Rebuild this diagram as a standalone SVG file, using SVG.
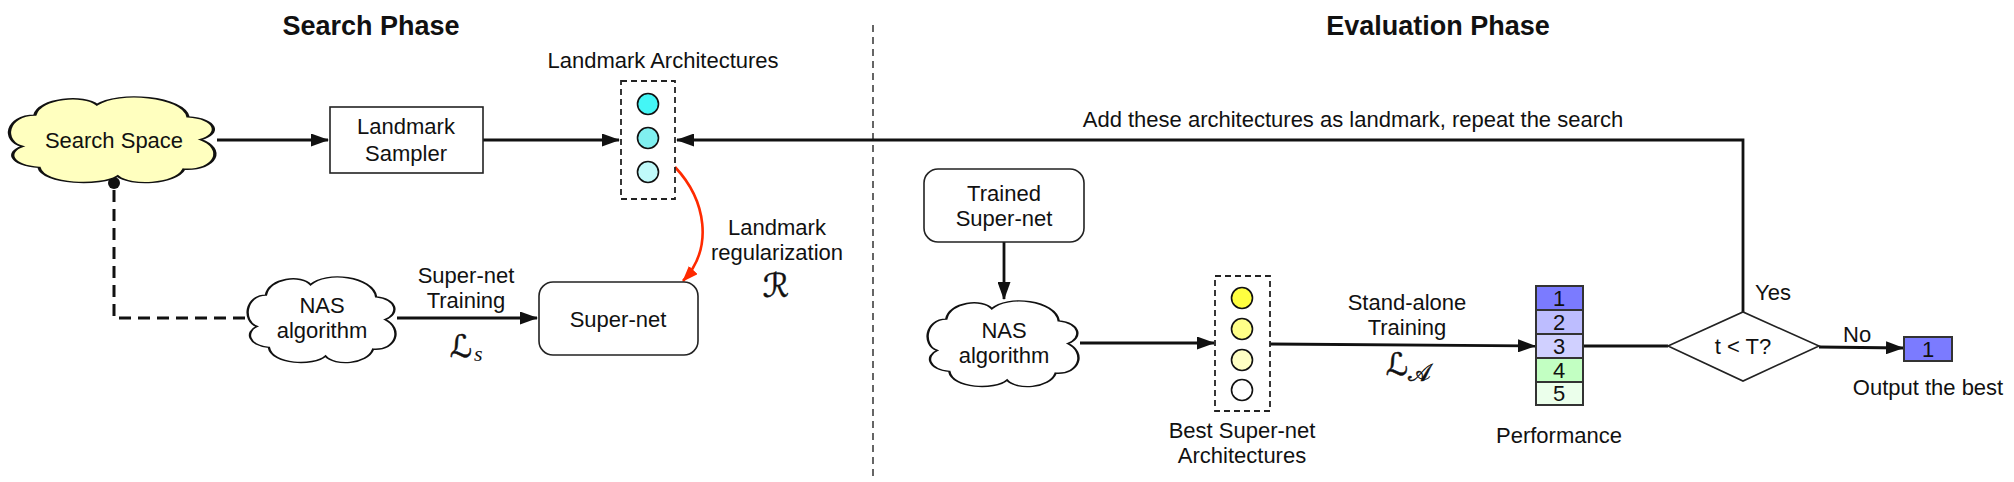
<svg xmlns="http://www.w3.org/2000/svg" width="2014" height="482" viewBox="0 0 2014 482">
<style>
text{font-family:"Liberation Sans",Arial,sans-serif;font-size:22px;fill:#111;text-anchor:middle}
.title{font-size:27px;font-weight:bold}
.math{font-family:"DejaVu Sans","DejaVu Serif","Liberation Serif",serif;stroke:#111;stroke-width:0.5}
.it{font-family:"Liberation Serif",serif;font-style:italic;text-anchor:start}
.cloud{stroke:#111;stroke-width:1.6;vector-effect:non-scaling-stroke}
.box{fill:#fff;stroke:#222;stroke-width:1.6}
.dbox{fill:none;stroke:#222;stroke-width:1.8;stroke-dasharray:6 4}
.dot{stroke:#111;stroke-width:1.6}
.ln{fill:none;stroke:#111;stroke-width:2.8}
.cell{stroke:#333;stroke-width:2}
</style>
<defs>
<marker id="ah" markerUnits="userSpaceOnUse" markerWidth="18" markerHeight="13" refX="17" refY="6.5" orient="auto">
<path d="M0,0 L18,6.5 L0,13 z" fill="#111"/>
</marker>
<marker id="ahr" markerUnits="userSpaceOnUse" markerWidth="16" markerHeight="12" refX="15" refY="6" orient="auto">
<path d="M0,0 L16,6 L0,12 z" fill="#ff2a00"/>
</marker>
<marker id="dotm" markerUnits="userSpaceOnUse" markerWidth="14" markerHeight="14" refX="7" refY="7" orient="auto">
<circle cx="7" cy="7" r="6" fill="#111"/>
</marker>
<path id="cloudp" d="M6,58 C-4,52 -2,22 12,22 C14,2 36,-2 42,10 C52,-6 84,0 86,24 C100,26 102,44 92,50 C104,60 100,86 84,84 C80,102 58,104 52,92 C44,104 16,102 14,82 C0,80 -2,64 6,58 Z"/>
</defs>

<text class="title" x="371" y="35">Search Phase</text>
<text class="title" x="1438" y="35">Evaluation Phase</text>
<line x1="873" y1="25" x2="873" y2="476" stroke="#333" stroke-width="1.5" stroke-dasharray="7 5"/>

<g id="connectors">
<line class="ln" x1="217" y1="140" x2="328" y2="140" marker-end="url(#ah)"/>
<line class="ln" x1="483" y1="140" x2="619" y2="140" marker-end="url(#ah)"/>
<path class="ln" d="M1743,312 L1743,140 L677,140" marker-end="url(#ah)"/>
<path d="M675,167 C706,200 714,248 683,281" fill="none" stroke="#ff2a00" stroke-width="2.6" marker-end="url(#ahr)"/>
<path d="M245,318 L114,318 L114,183" fill="none" stroke="#111" stroke-width="3" stroke-dasharray="12 7" marker-end="url(#dotm)"/>
<line class="ln" x1="397" y1="318" x2="537" y2="318" marker-end="url(#ah)"/>
<line class="ln" x1="1004" y1="242" x2="1004" y2="299" marker-end="url(#ah)"/>
<line class="ln" x1="1080" y1="343" x2="1214" y2="343" marker-end="url(#ah)"/>
<line class="ln" x1="1270" y1="344" x2="1535" y2="346" marker-end="url(#ah)"/>
<line class="ln" x1="1583" y1="346" x2="1668" y2="346"/>
<line class="ln" x1="1819" y1="347" x2="1903" y2="348" marker-end="url(#ah)"/>
<text x="1353" y="127">Add these architectures as landmark, repeat the search</text>
<text x="466" y="283">Super-net</text>
<text x="466" y="308">Training</text>
<text class="math" x="461" y="357" style="font-size:31px">ℒ</text>
<text class="it" x="474" y="361">s</text>
<text x="777" y="235">Landmark</text>
<text x="777" y="260">regularization</text>
<text class="math" x="776" y="297" style="font-size:33px">ℛ</text>
<text class="math" x="1397" y="375" style="font-size:31px">ℒ</text>
<text class="math" x="1419" y="381" style="font-size:24px">𝒜</text>
<text x="1407" y="310">Stand-alone</text>
<text x="1407" y="335">Training</text>
<text x="1755" y="300" style="text-anchor:start">Yes</text>
<text x="1843" y="342" style="text-anchor:start">No</text>
</g>

<g id="search-space">
<use href="#cloudp" class="cloud" fill="#ffffbf" transform="translate(10,96) scale(2.07,0.87)"/>
<text x="114" y="148">Search Space</text>
</g>

<g id="landmark-sampler">
<rect class="box" x="330" y="107" width="153" height="66"/>
<text x="406" y="134">Landmark</text>
<text x="406" y="161">Sampler</text>
</g>

<g id="landmark-architectures">
<text x="663" y="68">Landmark Architectures</text>
<rect class="dbox" x="621" y="81" width="54" height="118"/>
<circle class="dot" cx="648" cy="104" r="10.5" fill="#44f6f6"/>
<circle class="dot" cx="648" cy="138" r="10.5" fill="#80f0f0"/>
<circle class="dot" cx="648" cy="172" r="10.5" fill="#c0fafa"/>
</g>

<g id="nas-search">
<use href="#cloudp" class="cloud" fill="#fff" transform="translate(248,276) scale(1.49,0.87)"/>
<text x="322" y="313">NAS</text>
<text x="322" y="338">algorithm</text>
</g>

<g id="super-net">
<rect class="box" x="539" y="282" width="159" height="73" rx="14"/>
<text x="618" y="327">Super-net</text>
</g>

<g id="trained-super-net">
<rect class="box" x="924" y="169" width="160" height="73" rx="14"/>
<text x="1004" y="201">Trained</text>
<text x="1004" y="226">Super-net</text>
</g>

<g id="nas-eval">
<use href="#cloudp" class="cloud" fill="#fff" transform="translate(928,300) scale(1.52,0.87)"/>
<text x="1004" y="338">NAS</text>
<text x="1004" y="363">algorithm</text>
</g>

<g id="best-architectures">
<rect class="dbox" x="1215" y="276" width="55" height="135"/>
<circle class="dot" cx="1242" cy="298" r="10.5" fill="#ffff40"/>
<circle class="dot" cx="1242" cy="329" r="10.5" fill="#ffff88"/>
<circle class="dot" cx="1242" cy="360" r="10.5" fill="#ffffc4"/>
<circle class="dot" cx="1242" cy="390" r="10.5" fill="#fff"/>
<text x="1242" y="438">Best Super-net</text>
<text x="1242" y="463">Architectures</text>
</g>

<g id="performance">
<rect class="cell" x="1536" y="286" width="47" height="24" fill="#7b7bff"/>
<rect class="cell" x="1536" y="310" width="47" height="24" fill="#bdbdff"/>
<rect class="cell" x="1536" y="334" width="47" height="24" fill="#d0d0ff"/>
<rect class="cell" x="1536" y="358" width="47" height="24" fill="#c2ffc2"/>
<rect class="cell" x="1536" y="382" width="47" height="23" fill="#ebffeb"/>
<text x="1559" y="306">1</text>
<text x="1559" y="330">2</text>
<text x="1559" y="354">3</text>
<text x="1559" y="378">4</text>
<text x="1559" y="401">5</text>
<text x="1559" y="443">Performance</text>
</g>

<g id="decision">
<polygon points="1668,346 1743,312 1819,346 1743,381" fill="#fff" stroke="#222" stroke-width="1.6"/>
<text x="1743" y="354">t &lt; T?</text>
</g>

<g id="output">
<rect class="cell" x="1904" y="337" width="48" height="24" fill="#7b7bff" stroke-width="1.6"/>
<text x="1928" y="357">1</text>
<text x="1928" y="395">Output the best</text>
</g>
</svg>
